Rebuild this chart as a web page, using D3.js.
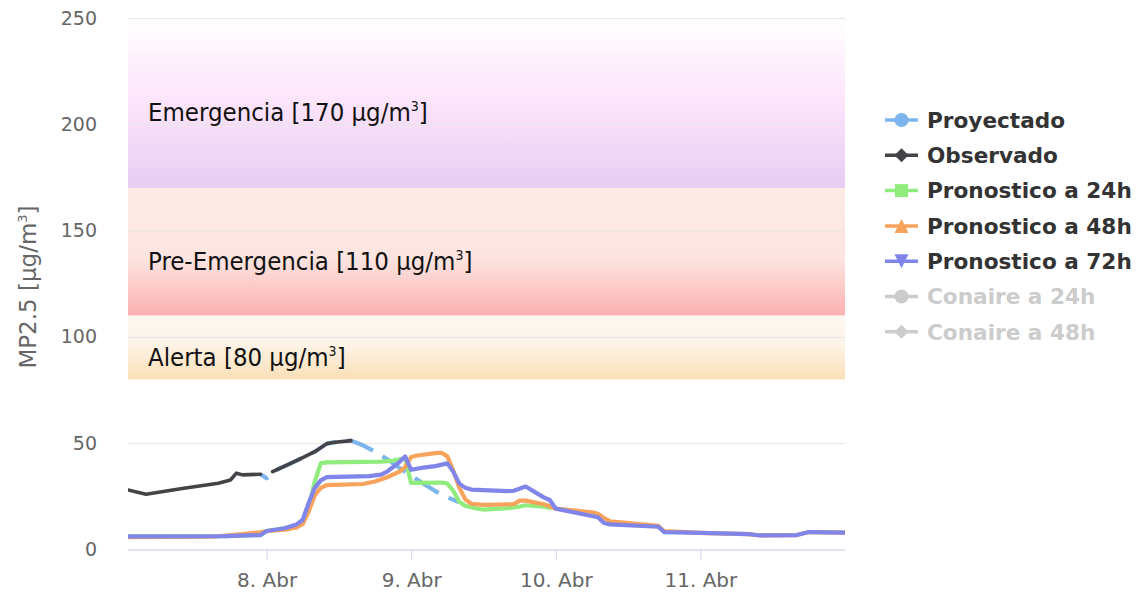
<!DOCTYPE html>
<html>
<head>
<meta charset="utf-8">
<script src="https://cdn.jsdelivr.net/npm/d3@7"></script>
<style>
  body { margin: 0; background: #fff; }
  svg { display: block; }
</style>
</head>
<body>
<svg id="chart" width="1140" height="593"></svg>
<script>
const parseTime = d3.timeParse("%Y-%m-%d %H:%M");

// ---- data ----
const observado = [
  ["2017-04-07 01:00", 28.0], ["2017-04-07 04:00", 26.0], ["2017-04-07 10:00", 28.7],
  ["2017-04-07 16:00", 31.2], ["2017-04-07 18:00", 32.7], ["2017-04-07 19:00", 35.9],
  ["2017-04-07 20:00", 35.1], ["2017-04-07 23:00", 35.4], ["2017-04-08 00:00", null],
  ["2017-04-08 01:00", 36.6], ["2017-04-08 04:00", 40.5], ["2017-04-08 06:00", 43.2],
  ["2017-04-08 08:00", 46.0], ["2017-04-08 10:00", 49.8], ["2017-04-08 11:00", 50.3],
  ["2017-04-08 14:00", 51.2]
];

const proyectado = [
  ["2017-04-07 23:00", 35.4], ["2017-04-08 00:00", 33.5], ["2017-04-08 01:00", 36.6],
  ["2017-04-08 04:00", 40.5], ["2017-04-08 06:00", 43.2], ["2017-04-08 08:00", 46.0],
  ["2017-04-08 10:00", 49.8], ["2017-04-08 11:00", 50.3], ["2017-04-08 14:00", 51.2],
  ["2017-04-08 16:00", 49.0], ["2017-04-08 18:00", 46.0], ["2017-04-08 20:00", 42.5],
  ["2017-04-08 22:00", 38.5], ["2017-04-09 00:00", 34.7], ["2017-04-09 02:00", 31.0],
  ["2017-04-09 04:00", 27.5], ["2017-04-09 06:00", 24.5], ["2017-04-09 08:00", 22.2]
];

const pron24 = [
  ["2017-04-07 01:00", 6.2], ["2017-04-07 17:00", 6.3], ["2017-04-07 23:00", 6.8],
  ["2017-04-08 00:00", 8.7], ["2017-04-08 03:00", 10.0], ["2017-04-08 05:00", 11.8],
  ["2017-04-08 06:00", 13.0], ["2017-04-08 07:00", 20.0], ["2017-04-08 08:00", 32.0],
  ["2017-04-08 09:00", 40.6], ["2017-04-08 10:00", 41.0], ["2017-04-08 19:00", 41.3],
  ["2017-04-08 21:00", 41.8], ["2017-04-08 23:00", 42.9], ["2017-04-09 00:00", 31.3],
  ["2017-04-09 05:00", 31.5], ["2017-04-09 06:00", 31.0], ["2017-04-09 07:00", 27.5],
  ["2017-04-09 08:00", 22.5], ["2017-04-09 09:00", 20.5], ["2017-04-09 11:00", 19.2],
  ["2017-04-09 12:00", 18.8], ["2017-04-09 16:00", 19.4], ["2017-04-09 18:00", 20.2],
  ["2017-04-09 19:00", 20.8], ["2017-04-09 22:00", 20.2], ["2017-04-09 23:00", 19.6]
];

const pron48 = [
  ["2017-04-07 01:00", 5.8], ["2017-04-07 15:00", 6.0], ["2017-04-07 20:00", 7.3],
  ["2017-04-07 23:00", 8.1], ["2017-04-08 00:00", 8.6], ["2017-04-08 03:00", 9.3],
  ["2017-04-08 05:00", 10.4], ["2017-04-08 06:00", 12.0], ["2017-04-08 07:00", 18.0],
  ["2017-04-08 08:00", 25.5], ["2017-04-08 09:00", 29.0], ["2017-04-08 10:00", 30.3],
  ["2017-04-08 16:00", 30.8], ["2017-04-08 18:00", 32.0], ["2017-04-08 20:00", 34.0],
  ["2017-04-08 22:00", 36.5], ["2017-04-08 23:00", 38.8], ["2017-04-09 00:00", 43.5],
  ["2017-04-09 01:00", 44.2], ["2017-04-09 04:00", 45.3], ["2017-04-09 05:00", 45.5],
  ["2017-04-09 06:00", 43.8], ["2017-04-09 07:00", 37.0], ["2017-04-09 08:00", 29.0],
  ["2017-04-09 09:00", 23.5], ["2017-04-09 10:00", 21.5], ["2017-04-09 12:00", 21.0],
  ["2017-04-09 17:00", 21.3], ["2017-04-09 18:00", 23.0], ["2017-04-09 19:00", 23.0],
  ["2017-04-09 22:00", 21.3], ["2017-04-09 23:00", 20.3], ["2017-04-10 00:00", 19.2],
  ["2017-04-10 06:00", 17.5], ["2017-04-10 07:00", 16.8], ["2017-04-10 08:00", 14.8],
  ["2017-04-10 09:00", 13.3], ["2017-04-10 17:00", 11.1], ["2017-04-10 18:00", 8.6],
  ["2017-04-11 00:00", 7.8], ["2017-04-11 08:00", 7.2], ["2017-04-11 10:00", 6.6],
  ["2017-04-11 16:00", 6.8], ["2017-04-11 18:00", 8.2], ["2017-04-12 00:00", 7.9]
];

const pron72 = [
  ["2017-04-07 01:00", 6.2], ["2017-04-07 17:00", 6.3], ["2017-04-07 23:00", 6.8],
  ["2017-04-08 00:00", 8.7], ["2017-04-08 03:00", 10.0], ["2017-04-08 05:00", 11.8],
  ["2017-04-08 06:00", 14.0], ["2017-04-08 07:00", 22.0], ["2017-04-08 08:00", 29.0],
  ["2017-04-08 09:00", 32.5], ["2017-04-08 10:00", 34.0], ["2017-04-08 17:00", 34.5],
  ["2017-04-08 19:00", 35.2], ["2017-04-08 20:00", 36.6], ["2017-04-08 22:00", 41.0],
  ["2017-04-08 23:00", 43.8], ["2017-04-09 00:00", 37.5], ["2017-04-09 02:00", 38.5],
  ["2017-04-09 04:00", 39.2], ["2017-04-09 06:00", 40.5], ["2017-04-09 07:00", 36.5],
  ["2017-04-09 08:00", 31.0], ["2017-04-09 09:00", 29.0], ["2017-04-09 10:00", 28.2],
  ["2017-04-09 16:00", 27.5], ["2017-04-09 17:00", 27.6], ["2017-04-09 19:00", 29.6],
  ["2017-04-09 22:00", 24.5], ["2017-04-09 23:00", 23.3], ["2017-04-10 00:00", 19.2],
  ["2017-04-10 07:00", 15.2], ["2017-04-10 08:00", 12.5], ["2017-04-10 09:00", 11.8],
  ["2017-04-10 17:00", 10.7], ["2017-04-10 18:00", 8.2], ["2017-04-11 00:00", 7.8],
  ["2017-04-11 08:00", 7.2], ["2017-04-11 10:00", 6.6], ["2017-04-11 16:00", 6.8],
  ["2017-04-11 18:00", 8.2], ["2017-04-12 00:00", 7.9]
];

const seriesNames = ["Proyectado", "Observado", "Pronostico a 24h", "Pronostico a 48h",
  "Pronostico a 72h", "Conaire a 24h", "Conaire a 48h"];
const seriesVisible = [true, true, true, true, true, false, false];

const bandNames = ["Emergencia", "Pre-Emergencia", "Alerta"];
const bandFrom = [170, 110, 80];
const bandTo = [250, 170, 110];

const yTicks = [0, 50, 100, 150, 200, 250];
const xTickDates = ["2017-04-08 00:00", "2017-04-09 00:00", "2017-04-10 00:00", "2017-04-11 00:00"];
const xTickLabels = ["8. Abr", "9. Abr", "10. Abr", "11. Abr"];
const xDomain = ["2017-04-07 01:00", "2017-04-12 00:00"];

// ---- styles ----
const colors = ["#7cb5ec", "#434348", "#90ed7d", "#f7a35c", "#8085e9", "#cccccc", "#cccccc"];
const symbols = ["circle", "diamond", "square", "triangle", "triangle-down", "circle", "diamond"];
const bandStops = [
  [["0%", "#ffffff"], ["50%", "#fde4fb"], ["100%", "#e7ccf3"]],
  [["0%", "#fdebe6"], ["55%", "#fde4e0"], ["100%", "#fbb1b1"]],
  [["0%", "#fdf8f1"], ["45%", "#fdf3e7"], ["100%", "#fbdfb6"]]
];

const svg = d3.select("#chart");
const plotLeft = 128, plotRight = 845, plotTop = 18, plotBottom = 549.5;

const x = d3.scaleTime().domain(xDomain.map(parseTime)).range([plotLeft, plotRight]);
const y = d3.scaleLinear().domain([0, 250]).range([plotBottom, plotTop]);

const defs = svg.append("defs");
bandStops.forEach((stops, i) => {
  const g = defs.append("linearGradient").attr("id", "band" + i)
    .attr("x1", 0).attr("y1", 0).attr("x2", 0).attr("y2", 1);
  stops.forEach(s => g.append("stop").attr("offset", s[0]).attr("stop-color", s[1]));
});
defs.append("clipPath").attr("id", "plotclip")
  .append("rect").attr("x", plotLeft).attr("y", plotTop - 5)
  .attr("width", plotRight - plotLeft).attr("height", plotBottom - plotTop + 10);

// plot bands
svg.append("g").selectAll("rect").data(bandNames).join("rect")
  .attr("x", plotLeft).attr("width", plotRight - plotLeft)
  .attr("y", (d, i) => y(bandTo[i]))
  .attr("height", (d, i) => y(bandFrom[i]) - y(bandTo[i]))
  .attr("fill", (d, i) => "url(#band" + i + ")");

// y axis + gridlines
const yAxis = svg.append("g").attr("transform", "translate(" + plotLeft + ",0)")
  .call(d3.axisLeft(y).tickValues(yTicks).tickSize(-(plotRight - plotLeft)).tickPadding(31));
yAxis.select(".domain").remove();
yAxis.selectAll(".tick line").attr("stroke", "#e6e6e6");
yAxis.selectAll(".tick text").attr("fill", "#666666")
  .style("font-family", "'DejaVu Sans', sans-serif").style("font-size", "19px");

// band labels
const bandLabel = svg.append("g").selectAll("text").data(bandNames).join("text")
  .attr("x", plotLeft + 20)
  .attr("y", (d, i) => y((bandFrom[i] + bandTo[i]) / 2) + 18)
  .attr("fill", "#111")
  .style("font-family", "'DejaVu Sans Condensed', 'DejaVu Sans', sans-serif")
  .style("font-stretch", "condensed")
  .style("font-size", "25.5px");
bandLabel.append("tspan").text((d, i) => d + " [" + bandFrom[i] + " \u00b5g/m");
bandLabel.append("tspan").attr("dy", -10).style("font-size", "14px").text("3");
bandLabel.append("tspan").attr("dy", 10).text("]");

// x axis
const xAxis = svg.append("g").attr("transform", "translate(0," + plotBottom + ")")
  .call(d3.axisBottom(x).tickValues(xTickDates.map(parseTime))
    .tickFormat((d, i) => xTickLabels[i]).tickSize(10).tickSizeOuter(0).tickPadding(13));
xAxis.select(".domain").attr("stroke", "#ccd6eb");
xAxis.selectAll(".tick line").attr("stroke", "#ccd6eb");
xAxis.selectAll(".tick text").attr("fill", "#666666")
  .style("font-family", "'DejaVu Sans', sans-serif").style("font-size", "20px");

// y axis title
svg.append("text")
  .attr("transform", "translate(36,287) rotate(-90)")
  .attr("text-anchor", "middle").attr("fill", "#666666")
  .style("font-family", "'DejaVu Sans', sans-serif").style("font-size", "23px")
  .call(t => {
    t.append("tspan").text("MP2.5 [\u00b5g/m");
    t.append("tspan").attr("dy", -9).style("font-size", "13px").text("3");
    t.append("tspan").attr("dy", 9).text("]");
  });

// series lines
const line = d3.line()
  .defined(d => d[1] != null)
  .x(d => x(parseTime(d[0])))
  .y(d => y(d[1]));

const seriesData = [proyectado, observado, pron24, pron48, pron72];
const lines = svg.append("g").attr("clip-path", "url(#plotclip)");
seriesData.forEach((data, i) => {
  const p = lines.append("path").datum(data)
    .attr("d", line)
    .attr("fill", "none")
    .attr("stroke", colors[i])
    .attr("stroke-width", i === 1 ? 3.6 : 4.2)
    .attr("stroke-linejoin", "round")
    .attr("stroke-linecap", "round");
  if (i === 0) p.attr("stroke-dasharray", "28,11").attr("stroke-dashoffset", 19).attr("stroke-linecap", "butt");
});

// legend
function symbolPath(type, r) {
  if (type === "circle") return d3.symbol(d3.symbolCircle, Math.PI * r * r)();
  if (type === "square") return "M" + -r + "," + -r + "H" + r + "V" + r + "H" + -r + "Z";
  if (type === "diamond") return "M0," + -r + "L" + r + ",0L0," + r + "L" + -r + ",0Z";
  if (type === "triangle") return "M0," + -r + "L" + r + "," + r + "H" + -r + "Z";
  return "M" + -r + "," + -r + "H" + r + "L0," + r + "Z";
}

const legend = svg.append("g").selectAll("g").data(seriesNames).join("g")
  .attr("transform", (d, i) => "translate(885," + (120 + i * 35.3) + ")");
legend.append("line").attr("x1", 0).attr("x2", 33).attr("y1", 0).attr("y2", 0)
  .attr("stroke", (d, i) => seriesVisible[i] ? colors[i] : "#cccccc")
  .attr("stroke-width", 3.5);
legend.append("path")
  .attr("transform", "translate(16.5,0)")
  .attr("d", (d, i) => symbolPath(symbols[i], symbols[i] === "square" ? 6.5 : 7))
  .attr("fill", (d, i) => seriesVisible[i] ? colors[i] : "#cccccc");
legend.append("text")
  .attr("x", 42).attr("dy", "0.36em")
  .attr("fill", (d, i) => seriesVisible[i] ? "#333333" : "#cccccc")
  .style("font-family", "'DejaVu Sans', sans-serif")
  .style("font-weight", "bold").style("font-size", "21.6px")
  .text(d => d);
</script>
</body>
</html>
